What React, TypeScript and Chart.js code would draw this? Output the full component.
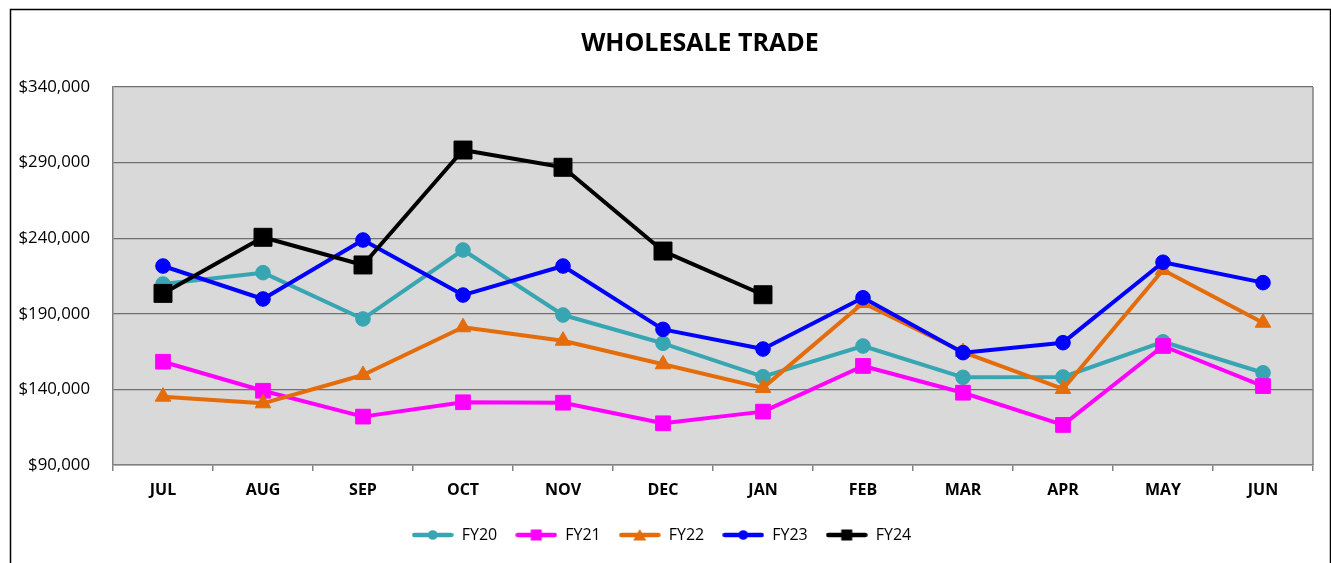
import React, { useEffect, useRef } from "react";
import { Chart, registerables } from "chart.js";

Chart.register(...registerables);

const chartTitle = "WHOLESALE TRADE";
const months = ["JUL", "AUG", "SEP", "OCT", "NOV", "DEC", "JAN", "FEB", "MAR", "APR", "MAY", "JUN"];

const fy20 = [209700, 217200, 186600, 232200, 189200, 170500, 148400, 168700, 148000, 148200, 171500, 151000];
const fy21 = [158300, 139100, 122000, 131500, 131200, 117600, 125300, 155500, 137800, 116500, 168700, 142200];
const fy22 = [135200, 130800, 149500, 181100, 172200, 156600, 141000, 197100, 164700, 140300, 219000, 184100];
const fy23 = [221600, 199800, 238800, 202400, 221600, 179700, 166700, 200600, 164300, 170900, 224100, 210600];
const fy24 = [203500, 240600, 222300, 298300, 286900, 231500, 202600];

const seriesNames = ["FY20", "FY21", "FY22", "FY23", "FY24"];
const seriesData = [fy20, fy21, fy22, fy23, fy24];
const seriesColors = ["#38A6B2", "#FF00FF", "#E46C0A", "#0000FF", "#000000"];
const seriesMarkers = ["circle", "rect", "triangle", "circle", "rect"];
const markerRadius = [7.3, 10.4, 9, 7.3, 12.7];

const yMin = 90000;
const yMax = 340000;
const yStep = 50000;

const FONT = "'Open Sans', 'DejaVu Sans', sans-serif";

function makeLegendIcon(color: string, marker: string): HTMLCanvasElement {
  const c = document.createElement("canvas");
  c.width = 42;
  c.height = 16;
  const ctx = c.getContext("2d")!;
  ctx.strokeStyle = color;
  ctx.fillStyle = color;
  ctx.lineWidth = 4.5;
  ctx.lineCap = "round";
  ctx.beginPath();
  ctx.moveTo(2.5, 8);
  ctx.lineTo(39.5, 8);
  ctx.stroke();
  ctx.beginPath();
  if (marker === "circle") {
    ctx.arc(21, 8, 4.8, 0, Math.PI * 2);
  } else if (marker === "rect") {
    ctx.rect(15.5, 2.5, 11, 11);
  } else {
    ctx.moveTo(21, 2);
    ctx.lineTo(27.5, 13.5);
    ctx.lineTo(14.5, 13.5);
    ctx.closePath();
  }
  ctx.fill();
  return c;
}

export default function App() {
  const ref = useRef<HTMLCanvasElement>(null);

  useEffect(() => {
    if (!ref.current) return;
    const icons = seriesColors.map((c, i) => makeLegendIcon(c, seriesMarkers[i]));

    const plotBg = {
      id: "plotBg",
      beforeDraw(chart: any) {
        const { ctx, chartArea } = chart;
        ctx.save();
        ctx.fillStyle = "#D9D9D9";
        ctx.fillRect(chartArea.left, chartArea.top, chartArea.right - chartArea.left, chartArea.bottom - chartArea.top);
        ctx.restore();
      },
      beforeDatasetsDraw(chart: any) {
        const { ctx, chartArea } = chart;
        ctx.save();
        ctx.strokeStyle = "#808080";
        ctx.lineWidth = 1.5;
        ctx.beginPath();
        ctx.moveTo(chartArea.right, chartArea.top);
        ctx.lineTo(chartArea.right, chartArea.bottom);
        ctx.stroke();
        ctx.restore();
      },
    };

    const frameAndTitle = {
      id: "frameAndTitle",
      afterDraw(chart: any) {
        const { ctx } = chart;
        ctx.save();
        ctx.strokeStyle = "#000000";
        ctx.lineWidth = 1.5;
        ctx.strokeRect(10.5, 9.5, 1320, 700);
        ctx.fillStyle = "#000000";
        ctx.font = `bold 25px ${FONT}`;
        ctx.textAlign = "center";
        ctx.textBaseline = "alphabetic";
        ctx.fillText(chartTitle, 700, 51);
        ctx.restore();
      },
    };

    const chart = new Chart(ref.current, {
      type: "line",
      data: {
        labels: months,
        datasets: seriesNames.map((name, i) => ({
          label: name,
          data: seriesData[i],
          borderColor: seriesColors[i],
          backgroundColor: seriesColors[i],
          pointBackgroundColor: seriesColors[i],
          pointBorderColor: seriesColors[i],
          pointBorderWidth: 1,
          pointStyle: seriesMarkers[i] as any,
          pointRadius: markerRadius[i],
          pointHoverRadius: markerRadius[i],
          borderWidth: 4,
          borderJoinStyle: "round" as any,
          borderCapStyle: "round" as any,
          tension: 0,
          fill: false,
          order: seriesNames.length - i,
        })),
      },
      options: {
        animation: false,
        responsive: true,
        maintainAspectRatio: false,
        events: [],
        layout: { padding: { left: 10, right: 18, top: 87, bottom: 10 } },
        font: { family: FONT } as any,
        scales: {
          x: {
            type: "category",
            offset: true,
            grid: {
              offset: true,
              drawOnChartArea: false,
              drawTicks: true,
              tickLength: 6,
              color: "#808080",
              lineWidth: 1.5,
            },
            border: { color: "#808080", width: 1.5 },
            ticks: {
              color: "#000000",
              font: { family: FONT, size: 16, weight: "bold" },
              padding: 9.4,
              maxRotation: 0,
              autoSkip: false,
            },
            afterFit: (s: any) => {
              s.height = 44;
            },
          },
          y: {
            min: yMin,
            max: yMax,
            grid: { color: "#707070", lineWidth: 1.3, drawTicks: false },
            border: { color: "#808080", width: 1.5 },
            ticks: {
              stepSize: yStep,
              color: "#000000",
              font: { family: FONT, size: 16.8 },
              padding: 23,
              callback: (v: any) => "$" + Number(v).toLocaleString("en-US"),
            },
            afterFit: (s: any) => {
              s.width = 103;
            },
          },
        },
        plugins: {
          title: { display: false },
          tooltip: { enabled: false },
          legend: {
            display: true,
            position: "bottom",
            labels: {
              usePointStyle: true,
              pointStyleWidth: 42,
              padding: 18,
              color: "#000000",
              font: { family: FONT, size: 16 },
              generateLabels: (ch: any) => {
                const items = Chart.defaults.plugins.legend.labels.generateLabels(ch);
                items.forEach((it: any) => {
                  it.pointStyle = icons[it.datasetIndex];
                });
                return items;
              },
              sort: (a: any, b: any) => a.datasetIndex - b.datasetIndex,
            },
          },
        },
      },
      plugins: [plotBg, frameAndTitle],
    } as any);

    return () => chart.destroy();
  }, []);

  return (
    <div style={{ position: "absolute", left: 0, top: 0, width: 1331, height: 563, background: "#ffffff" }}>
      <canvas ref={ref} />
    </div>
  );
}
